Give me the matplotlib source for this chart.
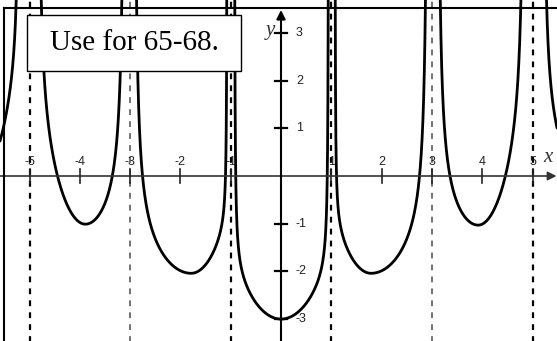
import numpy as np
import matplotlib
matplotlib.use("Agg")
import matplotlib.pyplot as plt
from matplotlib.patches import Rectangle

plt.rcParams["lines.scale_dashes"] = False

# Vertical asymptotes (dark ones and light ones)
asym_dark = [-5, -1, 1, 5]
asym_light = [-3, 3]

# Branches: position and value of each local minimum
branch_xmin = [-6.0, -3.89, -1.785, 0.0, 1.79, 3.92, 6.0]
branch_ymin = [0.0, -1.01, -2.04, -3.0, -2.04, -1.03, 0.0]
# Left side of each branch: where it turns vertical, and its bend
left_edge = [-6.8, -4.85, -2.93, -0.93, 1.07, 3.10, 5.20]
left_a = [1.5, 2.2, 1.0, 1.0, 1.0, 0.835, 1.5]
left_b = [0.45, 0.45, 0.42, 0.11, 0.09, 0.585, 0.45]
# Right side of each branch
right_edge = [-5.20, -3.10, -1.07, 0.95, 2.93, 4.85, 6.8]
right_a = [2.32, 0.835, 1.0, 1.0, 1.0, 2.2, 2.32]
right_b = [0.25, 0.585, 0.09, 0.11, 0.42, 0.45, 0.25]

x_ticks = [-5, -4, -3, -2, -1, 1, 2, 3, 4, 5]
x_tick_labels = ["-5", "-4", "-3", "-2", "-1", "1", "2", "3", "4", "5"]
y_ticks = [-3, -2, -1, 1, 2, 3]
y_tick_labels = ["-3", "-2", "-1", "1", "2", "3"]

W, H = 557, 341
fig = plt.figure(figsize=(W / 100, H / 100), dpi=100)
ax = fig.add_axes([0, 0, 1, 1])
px_x, px_y = 50.3, 47.7          # pixels per unit
x0_px, y0_px = 281.0, 176.0       # origin in pixels
ax.set_xlim(-x0_px / px_x, (W - x0_px) / px_x)
ax.set_ylim(-(H - y0_px) / px_y, y0_px / px_y)
ax.axis("off")


def side(xm, ym, edge, a, b):
    w = np.linspace(0, 0.9995, 1500)
    x = xm + w * (edge - xm)
    y = ym + a * w ** 2 + b * (1.0 / np.cos(np.pi * w / 2) - 1.0)
    keep = y < 6
    return x[keep], y[keep]


# asymptotes
for xa in asym_dark:
    ax.plot([xa, xa], [-4, 4], color="black", lw=1.6, dashes=(4.2, 4.4), zorder=1)
for xa in asym_light:
    ax.plot([xa, xa], [-4, 4], color="#5a5a5a", lw=1.2, dashes=(4.2, 4.4), zorder=1)

# curve branches
for i in range(len(branch_xmin)):
    xl, yl = side(branch_xmin[i], branch_ymin[i], left_edge[i], left_a[i], left_b[i])
    xr, yr = side(branch_xmin[i], branch_ymin[i], right_edge[i], right_a[i], right_b[i])
    xs = np.concatenate([xl[::-1], xr])
    ys = np.concatenate([yl[::-1], yr])
    ax.plot(xs, ys, color="black", lw=2.0, solid_capstyle="round", zorder=3)

# axes with arrows
ax.annotate("", xy=((W - 0.5 - x0_px) / px_x, 0), xytext=(-x0_px / px_x, 0),
            arrowprops=dict(arrowstyle="-|>", lw=1.2, color="#333333",
                            mutation_scale=13, shrinkA=0, shrinkB=0), zorder=4)
ax.annotate("", xy=(0, (y0_px - 10) / px_y), xytext=(0, -(H - y0_px) / px_y),
            arrowprops=dict(arrowstyle="-|>", lw=1.5, color="black",
                            mutation_scale=13, shrinkA=0, shrinkB=0), zorder=4)

# ticks and labels
tx = 7 / px_y
ty = 6 / px_x
for t, lab in zip(x_ticks, x_tick_labels):
    ax.plot([t, t], [-tx, tx], color="#222222", lw=1.2, zorder=4)
    ax.text(t, 14 / px_y, lab, ha="center", va="center", fontsize=9,
            family="Liberation Sans", color="#222222", zorder=2)
for t, lab in zip(y_ticks, y_tick_labels):
    ax.plot([-ty, ty], [t, t], color="black", lw=1.6, zorder=4)
    ax.text(15 / px_x, t, lab, ha="left", va="center", fontsize=9,
            family="Liberation Sans", color="#222222", zorder=4)

ax.text((548 - x0_px) / px_x, (y0_px - 158) / px_y, "x", ha="center", va="center",
        fontsize=15, family="Liberation Serif", style="italic", color="#333333")
ax.text((270 - x0_px) / px_x, (y0_px - 31) / px_y, "y", ha="center", va="center",
        fontsize=15, family="Liberation Serif", style="italic", color="#333333", zorder=5)

# outer frame (top and left edges)
ax.plot([4 / W, 1], [1 - 7.5 / H, 1 - 7.5 / H], transform=ax.transAxes,
        color="black", lw=1.5, clip_on=False, zorder=6)
ax.plot([4 / W, 4 / W], [0, 1 - 7.5 / H], transform=ax.transAxes,
        color="black", lw=1.5, clip_on=False, zorder=6)

# caption box
ax.add_patch(Rectangle((27 / W, 1 - 71 / H), 214 / W, 56 / H, transform=ax.transAxes,
                       facecolor="white", edgecolor="black", lw=1.0, zorder=7))
ax.text(134 / W, 1 - 43 / H, "Use for 65-68.", transform=ax.transAxes,
        ha="center", va="center", fontsize=21, family="Liberation Serif", zorder=8)

fig.savefig("out.png", dpi=100)
